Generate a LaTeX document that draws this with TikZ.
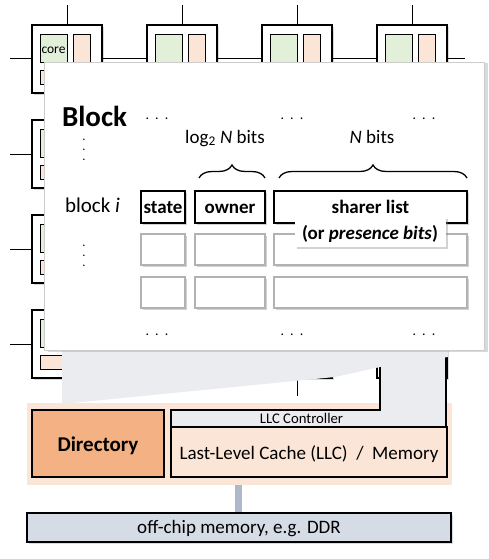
\documentclass[tikz,border=0pt]{standalone}
\usepackage{fontspec}
\setmainfont{Carlito}
\usetikzlibrary{shadows}
\usetikzlibrary{decorations.pathreplacing}
\definecolor{coregreen}{HTML}{E2F0D9}
\definecolor{cacheorange}{HTML}{FBE5D6}
\definecolor{dirorange}{HTML}{F4B183}
\definecolor{ctrlgrey}{HTML}{EBECEF}
\definecolor{memblue}{HTML}{D6DCE5}
\definecolor{linkblue}{HTML}{ADB9CA}
\newcommand\fs[1]{\fontsize{#1}{#1}\selectfont}
\newcommand\gapdots{.\kern6pt.\kern6pt.}
\newcommand\stackdots{\vbox{\baselineskip=10pt\hbox{.}\hbox{.}\hbox{.}}}

\begin{document}
\begin{tikzpicture}
  [x=1pt,y=-1pt,every node/.style={inner sep=0pt,outer sep=0pt},
   tile/.style={draw,line width=1.8pt,fill=white,anchor=north west,minimum width=70pt,minimum height=68pt,
     drop shadow={shadow xshift=2pt,shadow yshift=-2pt,opacity=.3}},
   corebox/.style={draw,line width=.8pt,fill=coregreen,anchor=north west,minimum width=27pt,minimum height=28pt},
   l1box/.style={draw,line width=.8pt,fill=cacheorange,anchor=north west,minimum width=17pt,minimum height=28pt},
   l2box/.style={draw,line width=.8pt,fill=cacheorange,anchor=north west,minimum width=50pt,minimum height=14pt},
   wire/.style={line width=1pt},
   field/.style={draw,line width=1.8pt,fill=white,anchor=north west,minimum height=32pt,font=\fs{19}\bfseries,
     text height=13pt,text depth=1pt,drop shadow={shadow xshift=2pt,shadow yshift=-2pt,opacity=.35}},
   slot/.style={draw=black!30,line width=2pt,fill=white,anchor=north west,minimum height=31pt,
     drop shadow={shadow xshift=2pt,shadow yshift=-2pt,opacity=.35}},
   bitbrace/.style={decorate,decoration={brace,amplitude=13pt},line width=1.3pt},
   box/.style={draw,line width=1.8pt,anchor=north west},
   link/.style={linkblue,line width=7pt}]
  \useasboundingbox (0,0) rectangle (489,559);

  % tiles of the chip
  \foreach \c/\x in {1/32,2/147,3/262,4/377}
    \foreach \r/\y in {1/25,2/120,3/215,4/310} {
      \node[tile] (t\r\c) at (\x,\y) {};
      \node[corebox] (c\r\c) at ([shift={(8,9)}]t\r\c.north west) {};
      \node[l1box] (a\r\c) at ([shift={(41,9)}]t\r\c.north west) {};
      \node[l2box] (b\r\c) at ([shift={(8,45)}]t\r\c.north west) {};
    }
  \node[font=\fs{13.5}] (corelbl) at ([shift={(0,2.5)}]c11.center) {core};
  \foreach \r in {1,...,4} {
    \draw[wire] (t\r1.west) -- ++(-22,0);
    \draw[wire] (t\r4.east) -- ++(18,0);
    \foreach \from/\to in {1/2,2/3,3/4}
      \draw[wire] (t\r\from) -- (t\r\to);
  }
  \foreach \c in {1,...,4}
    \draw[wire] (t1\c.north) -- ++(0,-20);
  \draw[wire] (t43.south) -- ++(0,18);

  % LLC and controller
  \node[fill=cacheorange,anchor=north west,minimum width=425pt,minimum height=82pt] (chip) at (27,403) {};
  \draw[line width=1.8pt,fill=ctrlgrey] (171,427) -- (171,410) -- (380,410) -- (380,345) -- (446,345) -- (446,427) -- cycle;
  \fill[ctrlgrey] (62,350) -- (448,350) -- (448,357) -- (380,367) -- (335,377) -- (62,404) -- cycle;
  \node[font=\fs{14.7},anchor=base] (ctrl) at (301.5,423) {LLC Controller};

  % zoomed directory entry
  \node[draw=black!20,line width=.8pt,fill=white,anchor=north west,minimum width=440pt,minimum height=288pt,
    drop shadow={shadow xshift=4pt,shadow yshift=-1.5pt,opacity=.3}] (zoom) at (44,62) {};
  \node[font=\fs{29}\bfseries,anchor=base west] (blk) at (62,127) {Block};
  \node[font=\fs{21},anchor=base west] (blki) at (65,212) {block \textit{i}};
  \node (vd1) at (84,150) {\fs{10}\bfseries\stackdots};
  \node (vd2) at (84,256) {\fs{10}\bfseries\stackdots};
  \foreach \x [count=\i] in {157,292,424} {
    \node[anchor=base] (td\i) at (\x,120) {\fs{14}\gapdots};
    \node[anchor=base] (bd\i) at (\x,335) {\fs{14}\gapdots};
  }
  \foreach \r/\y in {2/234,3/277} {
    \node[slot,minimum width=44pt] (st\r) at (141,\y) {};
    \node[slot,minimum width=70pt] (ow\r) at (195,\y) {};
    \node[slot,minimum width=193pt] (sh\r) at (274,\y) {};
  }
  \node[field,minimum width=44pt] (st1) at (141,191) {state};
  \node[field,minimum width=70pt] (ow1) at (195,191) {owner};
  \node[field,minimum width=193pt] (sh1) at (274,191) {sharer list};
  \node[fill=white,minimum width=151pt,minimum height=30pt,font=\fs{19}\bfseries,text height=16pt,text depth=1pt,
    drop shadow={shadow xshift=2pt,shadow yshift=-2pt,opacity=.35}] (pres) at (370,231.5) {(or \textit{presence bits})};
  \draw[bitbrace] ([shift={(4,-13)}]ow1.north west) -- ([shift={(0,-13)}]ow1.north east);
  \draw[bitbrace] ([shift={(5,-13)}]sh1.north west) -- ([shift={(0,-13)}]sh1.north east);
  \node[font=\fs{19},anchor=base] (logn) at (225,143) {log\textsubscript{2} \textit{N} bits};
  \node[font=\fs{19},anchor=base] (nbits) at (372,143) {\textit{N} bits};

  % directory, cache and memory
  \node[box,fill=dirorange,minimum width=132pt,minimum height=67pt,font=\fs{21}\bfseries,
    text height=16pt,text depth=1pt] (dir) at (32,410) {Directory};
  \node[box,fill=cacheorange,minimum width=276pt,minimum height=50pt,font=\fs{19},
    text height=15pt,text depth=1pt] (llc) at (171,427) {Last-Level Cache (LLC)\ \ /\ \ Memory};
  \coordinate (lnk) at (238.5,485);
  \draw[link] (chip.south -| lnk) -- (0,513 -| lnk);
  \node[box,fill=memblue,minimum width=424pt,minimum height=29pt,font=\fs{19},text height=12pt,text depth=1pt,
    drop shadow={shadow xshift=2pt,shadow yshift=-2pt,opacity=.3}] (offchip) at (27,513) {off-chip memory, e.g. DDR};
\end{tikzpicture}
\end{document}
